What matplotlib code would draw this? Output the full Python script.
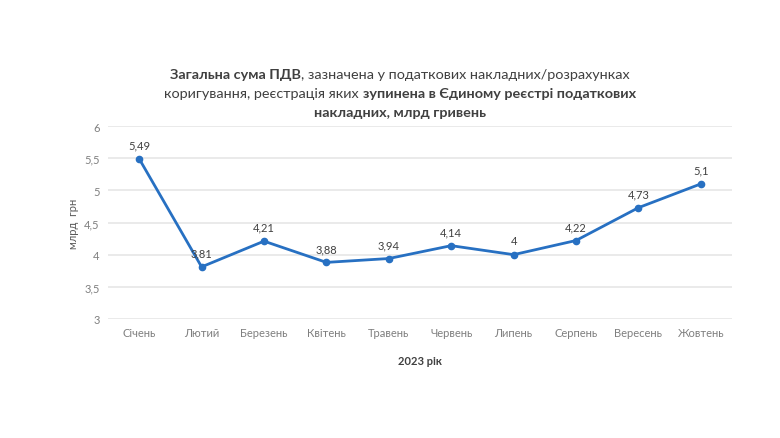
import matplotlib
matplotlib.use("Agg")
import matplotlib.pyplot as plt

plt.rcParams['font.family'] = ['Lato', 'DejaVu Sans']

months = ['Січень', 'Лютий', 'Березень', 'Квітень', 'Травень',
          'Червень', 'Липень', 'Серпень', 'Вересень', 'Жовтень']
values = [5.49, 3.81, 4.21, 3.88, 3.94, 4.14, 4.0, 4.22, 4.73, 5.1]
value_labels = ['5,49', '3,81', '4,21', '3,88', '3,94', '4,14', '4', '4,22', '4,73', '5,1']
y_ticks = [3, 3.5, 4, 4.5, 5, 5.5, 6]
y_tick_labels = ['3', '3,5', '4', '4,5', '5', '5,5', '6']

# заголовок: (текст, жирний?)
title_lines = [
    [('Загальна сума ПДВ', True), (', зазначена у податкових накладних/розрахунках', False)],
    [('коригування, реєстрація яких ', False), ('зупинена в Єдиному реєстрі податкових', True)],
    [('накладних, млрд гривень', True)],
]

W, H = 780, 439
fig = plt.figure(figsize=(W / 100, H / 100), dpi=100)
ax = fig.add_axes([108 / W, 1 - 320 / H, (732 - 108) / W, (320 - 127) / H])

x = list(range(len(months)))
line_color = '#2770C2'
ax.plot(x, values, color=line_color, lw=2, marker='o', ms=4.5, zorder=3)
for xi, v, lab in zip(x, values, value_labels):
    ax.annotate(lab, (xi, v), xytext=(0, 6), textcoords='offset points',
                ha='center', va='bottom', fontsize=8, color='#404040')

ax.set_xlim(-0.5, len(months) - 0.5)
ax.set_ylim(3, 6)
ax.set_yticks(y_ticks)
ax.set_yticklabels(y_tick_labels)
ax.set_xticks(x)
ax.set_xticklabels(months)
ax.tick_params(axis='both', length=0, labelsize=8, labelcolor='#7f7f7f')
ax.tick_params(axis='x', pad=6)
ax.tick_params(axis='y', pad=6)
ax.grid(axis='y', color='#e6e6e6', lw=1.2)
ax.set_axisbelow(True)
for s in ax.spines.values():
    s.set_visible(False)

ax.set_ylabel('млрд  грн', fontsize=8, color='#595959', labelpad=4)
ax.set_xlabel('2023 рік', fontsize=8, color='#404040', fontweight='bold', labelpad=12)

# заголовок зі змішаним шрифтом, кожен рядок по центру
renderer = fig.canvas.get_renderer()
cx = 400
title_y = [75, 94, 113]
for line, yp in zip(title_lines, title_y):
    texts = []
    for s, bold in line:
        t = fig.text(0, 1 - yp / H, s, fontsize=10.4, color='#404040',
                     fontweight='bold' if bold else 'normal', va='center', ha='left')
        texts.append(t)
    widths = [t.get_window_extent(renderer).width for t in texts]
    xs = cx - sum(widths) / 2
    for t, w in zip(texts, widths):
        t.set_x(xs / W)
        xs += w

fig.savefig('out.png', dpi=100, facecolor='white')
